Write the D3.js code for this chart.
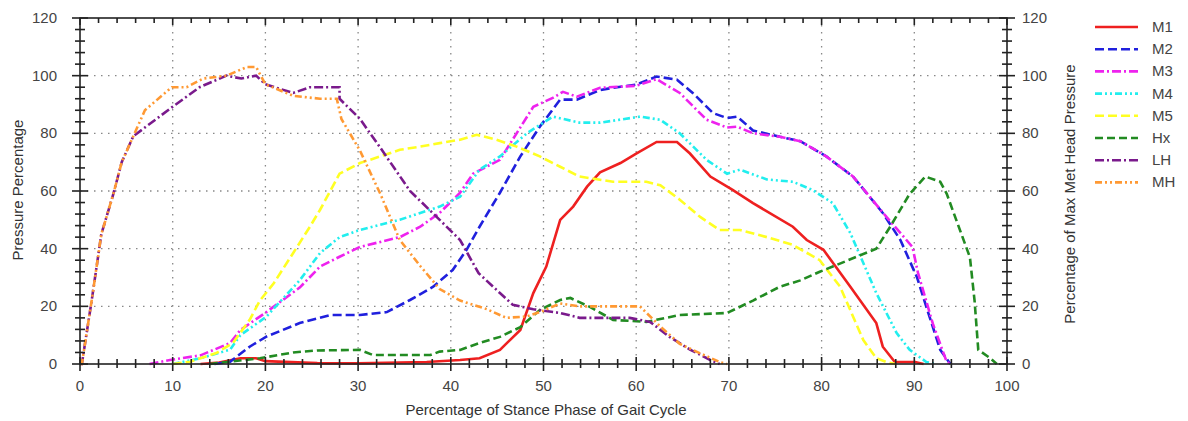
<!DOCTYPE html>
<html>
<head>
<meta charset="utf-8">
<script src="https://cdn.jsdelivr.net/npm/d3@7"></script>
<style>
  body { margin: 0; background: #fff; }
  text { font-family: "Liberation Sans", Arial, sans-serif; }
</style>
</head>
<body>
<div id="chart"></div>
<script>
// Series values, [stance %, pressure %].
const m1 = [[13,0],[15,0.5],[17.3,2],[19,2],[20,1],[25.6,0.3],[30,0.2],[37.4,0.7],[41,1.4],[43.1,2],[45.3,4.9],[47.5,11.8],[48.9,24.6],[50.3,33.8],[51.8,50],[53.2,54.6],[54.7,61.5],[56.1,66.5],[58.3,69.7],[60,73],[62.2,77],[64.4,77],[65.8,73],[68,65],[70.4,60.4],[72.6,55.8],[76.9,47.6],[78.4,43],[80.2,39.6],[83.1,26.8],[85.9,14.2],[86.6,6],[87.9,0.7],[90.1,0.7],[91,0]];
const m2 = [[14.5,0],[16.2,0.8],[18.3,6],[20.1,9.5],[23.7,14.2],[27,17],[30.2,17],[33.1,18],[35.6,22.2],[38.1,26.8],[40.2,32.6],[41.7,39.6],[43.1,47.6],[45.3,59.4],[47.5,72],[49.6,82.3],[51.8,91.7],[53.6,91.7],[56.1,95],[57.5,95.8],[60,96.9],[62.2,99.7],[64.4,98.6],[66.1,94],[68.3,87],[69.8,85.3],[70.9,85.8],[72.6,81],[75.5,78.8],[77.7,77.3],[80.5,72],[83.4,65],[86.6,52.4],[88.5,43],[90.3,30],[91.3,19.8],[92.8,4.9],[93.9,0]];
const m3 = [[7.5,0],[9.7,1.4],[13,3],[16.2,7.3],[17.3,11.8],[20.1,18],[23.7,26.5],[25.9,33.8],[28,37.2],[30.2,40.6],[34.5,44],[36.7,47.6],[38.8,52.4],[41,59.4],[42.4,66],[45.3,70.8],[47.1,80],[48.9,89.2],[51,92.3],[52.1,94.4],[53.6,92.7],[56.1,95.8],[60,96.5],[62.2,98.8],[64.7,94],[67.6,84.7],[69.8,82],[70.9,82.3],[72.6,80],[75.5,78.8],[77.7,77.3],[80.5,72],[83.4,65],[87,51],[89.8,40.6],[90.4,31.6],[92,14],[93.5,0.7],[94,0]];
const m4 = [[10,0],[13,2],[16.2,5],[17.3,10],[20.1,16.4],[23.7,29],[25.9,38.5],[28,44],[30.2,46.5],[34.5,50],[36.7,52.4],[38.8,54.6],[41,58],[43.1,67.4],[45.3,72],[48.2,80],[51,85.8],[53.9,83.7],[56.1,83.7],[60.4,85.8],[62.6,84.7],[64.7,80],[67.6,70.8],[69.8,66],[71.2,67.4],[74.1,64],[76.9,63.2],[79,60.4],[81.2,55.8],[83.1,45.4],[84.5,35],[85.9,24.6],[88.1,10.7],[89.5,4.9],[91.3,0.7],[92.4,0]];
const m5 = [[10,0],[11.9,0.8],[14.7,3.8],[16.5,7.3],[18.3,15.3],[19.4,22],[20.9,28],[23,38.5],[24.8,47.6],[25.9,53.5],[28,66],[30.2,69.7],[32.4,72],[34.5,74.3],[36.7,75.4],[38.8,76.6],[41,77.8],[42.8,79.5],[44.9,77.8],[47.1,75.4],[49.6,72],[51.8,68.4],[53.9,65],[57.5,63.2],[61.1,63.2],[62.6,62],[64.7,57],[66.9,51],[69,46.5],[71.2,46.5],[74.1,44],[76.9,41.3],[79.8,36],[82,26.8],[83.4,16.4],[84.5,8.3],[85.9,2],[87,0.7],[88,0]];
const hx = [[14,0],[15.8,0.7],[19.4,2],[23,4],[25.6,4.7],[30.2,4.9],[31.6,3.1],[37.8,3.1],[38.8,4.3],[41,4.9],[43.1,7.3],[45.3,9.4],[47.5,12.8],[49.6,18.7],[51.8,22.2],[52.9,22.9],[55,19.8],[57.5,15.3],[61.1,14.6],[64.7,17],[69.8,17.7],[72.6,22],[75.5,26.8],[77.7,29],[79.8,32],[81.2,33.8],[85.9,40],[87.4,47.6],[89.5,59],[91.2,65],[92.8,63.2],[93.5,59],[96,37],[96.5,22],[96.9,4.9],[98.2,2],[98.9,0]];
const lh = [[0,0],[0.2,0],[1.26,22],[2.3,45],[3.6,59],[4.5,70],[5.75,79],[7,82],[9.9,89],[12.9,96],[15.8,100],[17.4,99],[19,100],[20,97],[23,94],[24.8,96],[28,96],[28,92],[30.2,85],[32.4,75],[35.6,60],[38.8,50],[41,43],[43,31.5],[45.3,24.6],[46.7,20.5],[48.9,19],[51.8,17.7],[53.9,16],[59.3,16],[61.5,14.6],[63.6,9.4],[65.8,5],[68,1.4],[69,0]];
const mh = [[0,0],[0.2,0],[1.26,22],[2.3,45],[3.6,59],[4.5,70],[5.75,79],[7,88],[9.9,96],[11.5,96],[13.3,99],[15.8,100],[18,103],[19,103],[20,97],[23,93],[25.9,92],[27.7,92],[28.2,85],[30.2,74],[32.4,59],[34.5,43],[36.7,34],[38.8,26],[41,22],[43.9,19],[46,16],[48.2,16.5],[49.6,18],[51.8,21],[53.9,20],[60.4,20],[62.6,13],[64.7,7],[66.9,3.7],[69,0.7],[69.8,0]];

const seriesNames = ["M1", "M2", "M3", "M4", "M5", "Hx", "LH", "MH"];
const seriesData = [m1, m2, m3, m4, m5, hx, lh, mh];
const seriesColors = ["#ee2020", "#2020dd", "#ee22ee", "#22eeee", "#ffff22", "#228b22", "#7a1a8c", "#ff9933"];
const seriesDash = ["none", "9,4", "9,3,2,3", "7,3,2,3,2,3", "9,4", "8,4", "9,3,2,3", "7,3,2,3,2,3"];

const xTicks = [0, 10, 20, 30, 40, 50, 60, 70, 80, 90, 100];
const yTicks = [0, 20, 40, 60, 80, 100, 120];

const W = 1188, H = 421;
const x = d3.scaleLinear().domain([0, 100]).range([80, 1007]);
const y = d3.scaleLinear().domain([0, 120]).range([364, 18]);

const svg = d3.select("#chart").append("svg")
  .attr("width", W).attr("height", H);

// Dotted grid.
svg.append("g").selectAll("line")
  .data(xTicks.slice(1, -1))
  .join("line")
  .attr("x1", d => x(d)).attr("x2", d => x(d))
  .attr("y1", y(120)).attr("y2", y(0))
  .attr("stroke", "#888").attr("stroke-width", 1.3)
  .attr("stroke-dasharray", "1.5,5.5");
svg.append("g").selectAll("line")
  .data(yTicks.slice(1, -1))
  .join("line")
  .attr("x1", x(0)).attr("x2", x(100))
  .attr("y1", d => y(d)).attr("y2", d => y(d))
  .attr("stroke", "#888").attr("stroke-width", 1.3)
  .attr("stroke-dasharray", "1.5,5.5");

// Series.
const line = d3.line().x(d => x(d[0])).y(d => y(d[1]));
svg.append("g").selectAll("path")
  .data(seriesData)
  .join("path")
  .attr("d", line)
  .attr("fill", "none")
  .attr("stroke", (d, i) => seriesColors[i])
  .attr("stroke-width", 2.6)
  .attr("stroke-dasharray", (d, i) => seriesDash[i]);

// Axes: crossing ticks on left/right/bottom, inward ticks on top.
const minorX = d3.range(0, 101, 2);
const minorY = d3.range(0, 121, 4);
const axisColor = "#222";

const frame = svg.append("g").attr("stroke", axisColor).attr("stroke-width", 1.6);
frame.append("rect")
  .attr("x", x(0)).attr("y", y(120))
  .attr("width", x(100) - x(0)).attr("height", y(0) - y(120))
  .attr("fill", "none");

// bottom
frame.selectAll(".bx").data(minorX).join("line")
  .attr("x1", d => x(d)).attr("x2", d => x(d))
  .attr("y1", d => y(0) - (d % 10 === 0 ? 7 : 5))
  .attr("y2", d => y(0) + (d % 10 === 0 ? 7 : 4));
// top
frame.selectAll(".tx").data(minorX).join("line")
  .attr("x1", d => x(d)).attr("x2", d => x(d))
  .attr("y1", y(120))
  .attr("y2", d => y(120) + (d % 10 === 0 ? 7 : 5));
// left
frame.selectAll(".ly").data(minorY).join("line")
  .attr("x1", d => x(0) - (d % 20 === 0 ? 8 : 5))
  .attr("x2", d => x(0) + (d % 20 === 0 ? 8 : 5))
  .attr("y1", d => y(d)).attr("y2", d => y(d));
// right
frame.selectAll(".ry").data(minorY).join("line")
  .attr("x1", d => x(100) - (d % 20 === 0 ? 8 : 5))
  .attr("x2", d => x(100) + (d % 20 === 0 ? 8 : 5))
  .attr("y1", d => y(d)).attr("y2", d => y(d));

// Tick labels.
const labelStyle = sel => sel
  .attr("font-size", 15).attr("fill", "#444");
svg.append("g").selectAll("text").data(xTicks).join("text")
  .attr("x", d => x(d)).attr("y", 391)
  .attr("text-anchor", "middle")
  .text(d => d).call(labelStyle);
svg.append("g").selectAll("text").data(yTicks).join("text")
  .attr("x", 57).attr("y", d => y(d) + 5)
  .attr("text-anchor", "end")
  .text(d => d).call(labelStyle);
svg.append("g").selectAll("text").data(yTicks).join("text")
  .attr("x", 1022).attr("y", d => y(d) + 5)
  .attr("text-anchor", "start")
  .text(d => d).call(labelStyle);

// Axis titles.
svg.append("text")
  .attr("x", 546).attr("y", 415)
  .attr("text-anchor", "middle").attr("font-size", 15).attr("fill", "#333")
  .text("Percentage of Stance Phase of Gait Cycle");
svg.append("text")
  .attr("transform", `translate(23, 190) rotate(-90)`)
  .attr("text-anchor", "middle").attr("font-size", 15).attr("fill", "#333")
  .text("Pressure Percentage");
svg.append("text")
  .attr("transform", `translate(1075, 194) rotate(-90)`)
  .attr("text-anchor", "middle").attr("font-size", 15).attr("fill", "#333")
  .text("Percentage of Max Met Head Pressure");

// Legend.
const legend = svg.append("g");
legend.selectAll("line").data(seriesNames).join("line")
  .attr("x1", 1095).attr("x2", 1138)
  .attr("y1", (d, i) => 27 + i * 22.2).attr("y2", (d, i) => 27 + i * 22.2)
  .attr("stroke", (d, i) => seriesColors[i])
  .attr("stroke-width", 2.6)
  .attr("stroke-dasharray", (d, i) => seriesDash[i]);
legend.selectAll("text").data(seriesNames).join("text")
  .attr("x", 1152).attr("y", (d, i) => 27 + i * 22.2 + 5)
  .attr("font-size", 15).attr("fill", "#444")
  .text(d => d);
</script>
</body>
</html>
